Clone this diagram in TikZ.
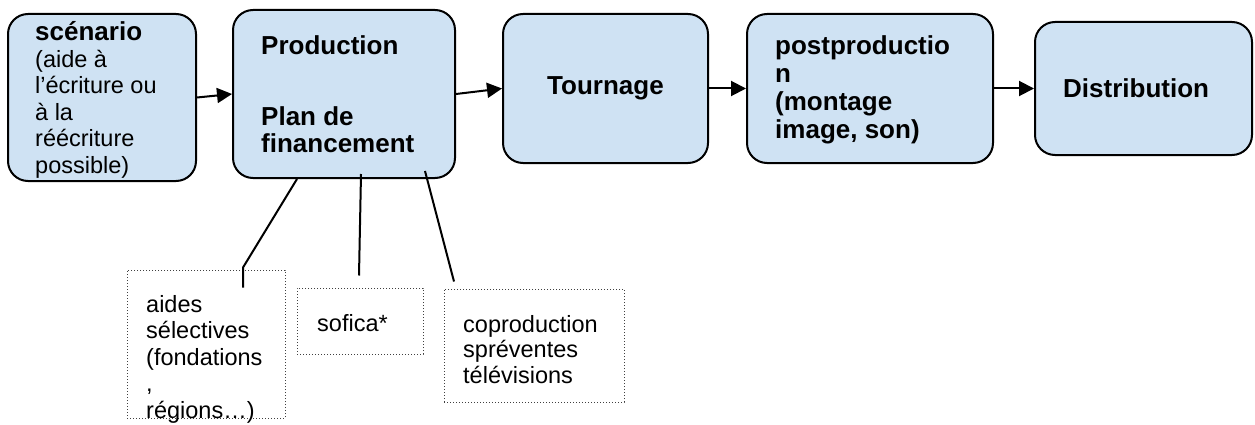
\documentclass[tikz,border=0pt]{standalone}
\usepackage{fontspec}
\setmainfont{Liberation Sans}
\usetikzlibrary{arrows.meta}
\definecolor{boxblue}{HTML}{CFE2F3}

\begin{document}
\begin{tikzpicture}[x=1pt,y=-1pt,
    etape/.style={draw=black, line width=2pt, fill=boxblue, rounded corners=20pt, inner sep=0pt},
    aide/.style={draw=black!75, dotted, line width=1pt, inner sep=0pt},
    txt/.style={anchor=base west, inner sep=0pt, align=left, font=\fontsize{23.5}{26.5}\selectfont},
    gras/.style={anchor=base west, inner sep=0pt, align=left, font=\fontsize{26}{28}\selectfont\bfseries},
    fleche/.style={line width=2pt, -{Triangle[length=15pt,width=15pt]}},
    trait/.style={line width=2pt}]
    \useasboundingbox (0,0) rectangle (1255,425);

    % les etapes
    \node[etape, minimum width=188pt, minimum height=167pt] (scen) at (102,97.5) {};
    \node[etape, minimum width=222pt, minimum height=168pt] (prod) at (344,94) {};
    \node[etape, minimum width=205pt, minimum height=149pt] (tourn) at (605.5,88.5) {};
    \node[etape, minimum width=246pt, minimum height=149pt] (post) at (870,88.5) {};
    \node[etape, minimum width=217pt, minimum height=133pt] (distr) at (1143.5,88.5) {};

    % les financements
    \node[aide, minimum width=158pt, minimum height=148pt] (aides) at (206,344) {};
    \node[aide, minimum width=126pt, minimum height=66pt] (sofica) at (360,321) {};
    \node[aide, minimum width=180pt, minimum height=113pt] (copro) at (534,345.5) {};

    % textes (base = derniere ligne)
    \node[txt] (t-scen) at (35,173) {\fontsize{26}{28}\selectfont\bfseries scénario\\(aide à\\l’écriture ou\\à la\\réécriture\\possible)};
    \node[gras] (t-prod) at (261,153) {Production\\[42pt]Plan de\\financement};
    \node[gras, anchor=center] (t-tourn) at (tourn.center) {Tournage};
    \node[gras] (t-post) at (775,139) {postproductio\\n\\(montage\\image, son)};
    \node[gras] (t-distr) at (1063,98) {Distribution};
    \node[txt] (t-aides) at (146,418) {aides\\sélectives\\(fondations\\,\\régions…)};
    \node[txt] (t-sofica) at (317,331) {sofica*};
    \node[txt, font=\fontsize{23.5}{25.5}\selectfont] (t-copro) at (463,383) {coproduction\\spréventes\\télévisions};

    \draw[fleche] (scen.east) -- (prod.west);
    \draw[fleche] (prod.east) -- (tourn.west);
    \draw[fleche] (tourn.east) -- (post.west);
    \draw[fleche] (post.east) -- (distr.west);

    \draw[trait] ([xshift=-47pt]prod.south) -- ([shift={(37pt,2pt)}]aides.north) -- ([shift={(37pt,-18pt)}]aides.north);
    \draw[trait] ([shift={(17pt,5pt)}]prod.south) -- ([shift={(-1pt,12pt)}]sofica.north);
    \draw[trait] ([shift={(81pt,8pt)}]prod.south) -- ([shift={(-80pt,7pt)}]copro.north);

%    \draw[gray!50, thin, step=50] (0,0) grid (1255,425);
\end{tikzpicture}
\end{document}
